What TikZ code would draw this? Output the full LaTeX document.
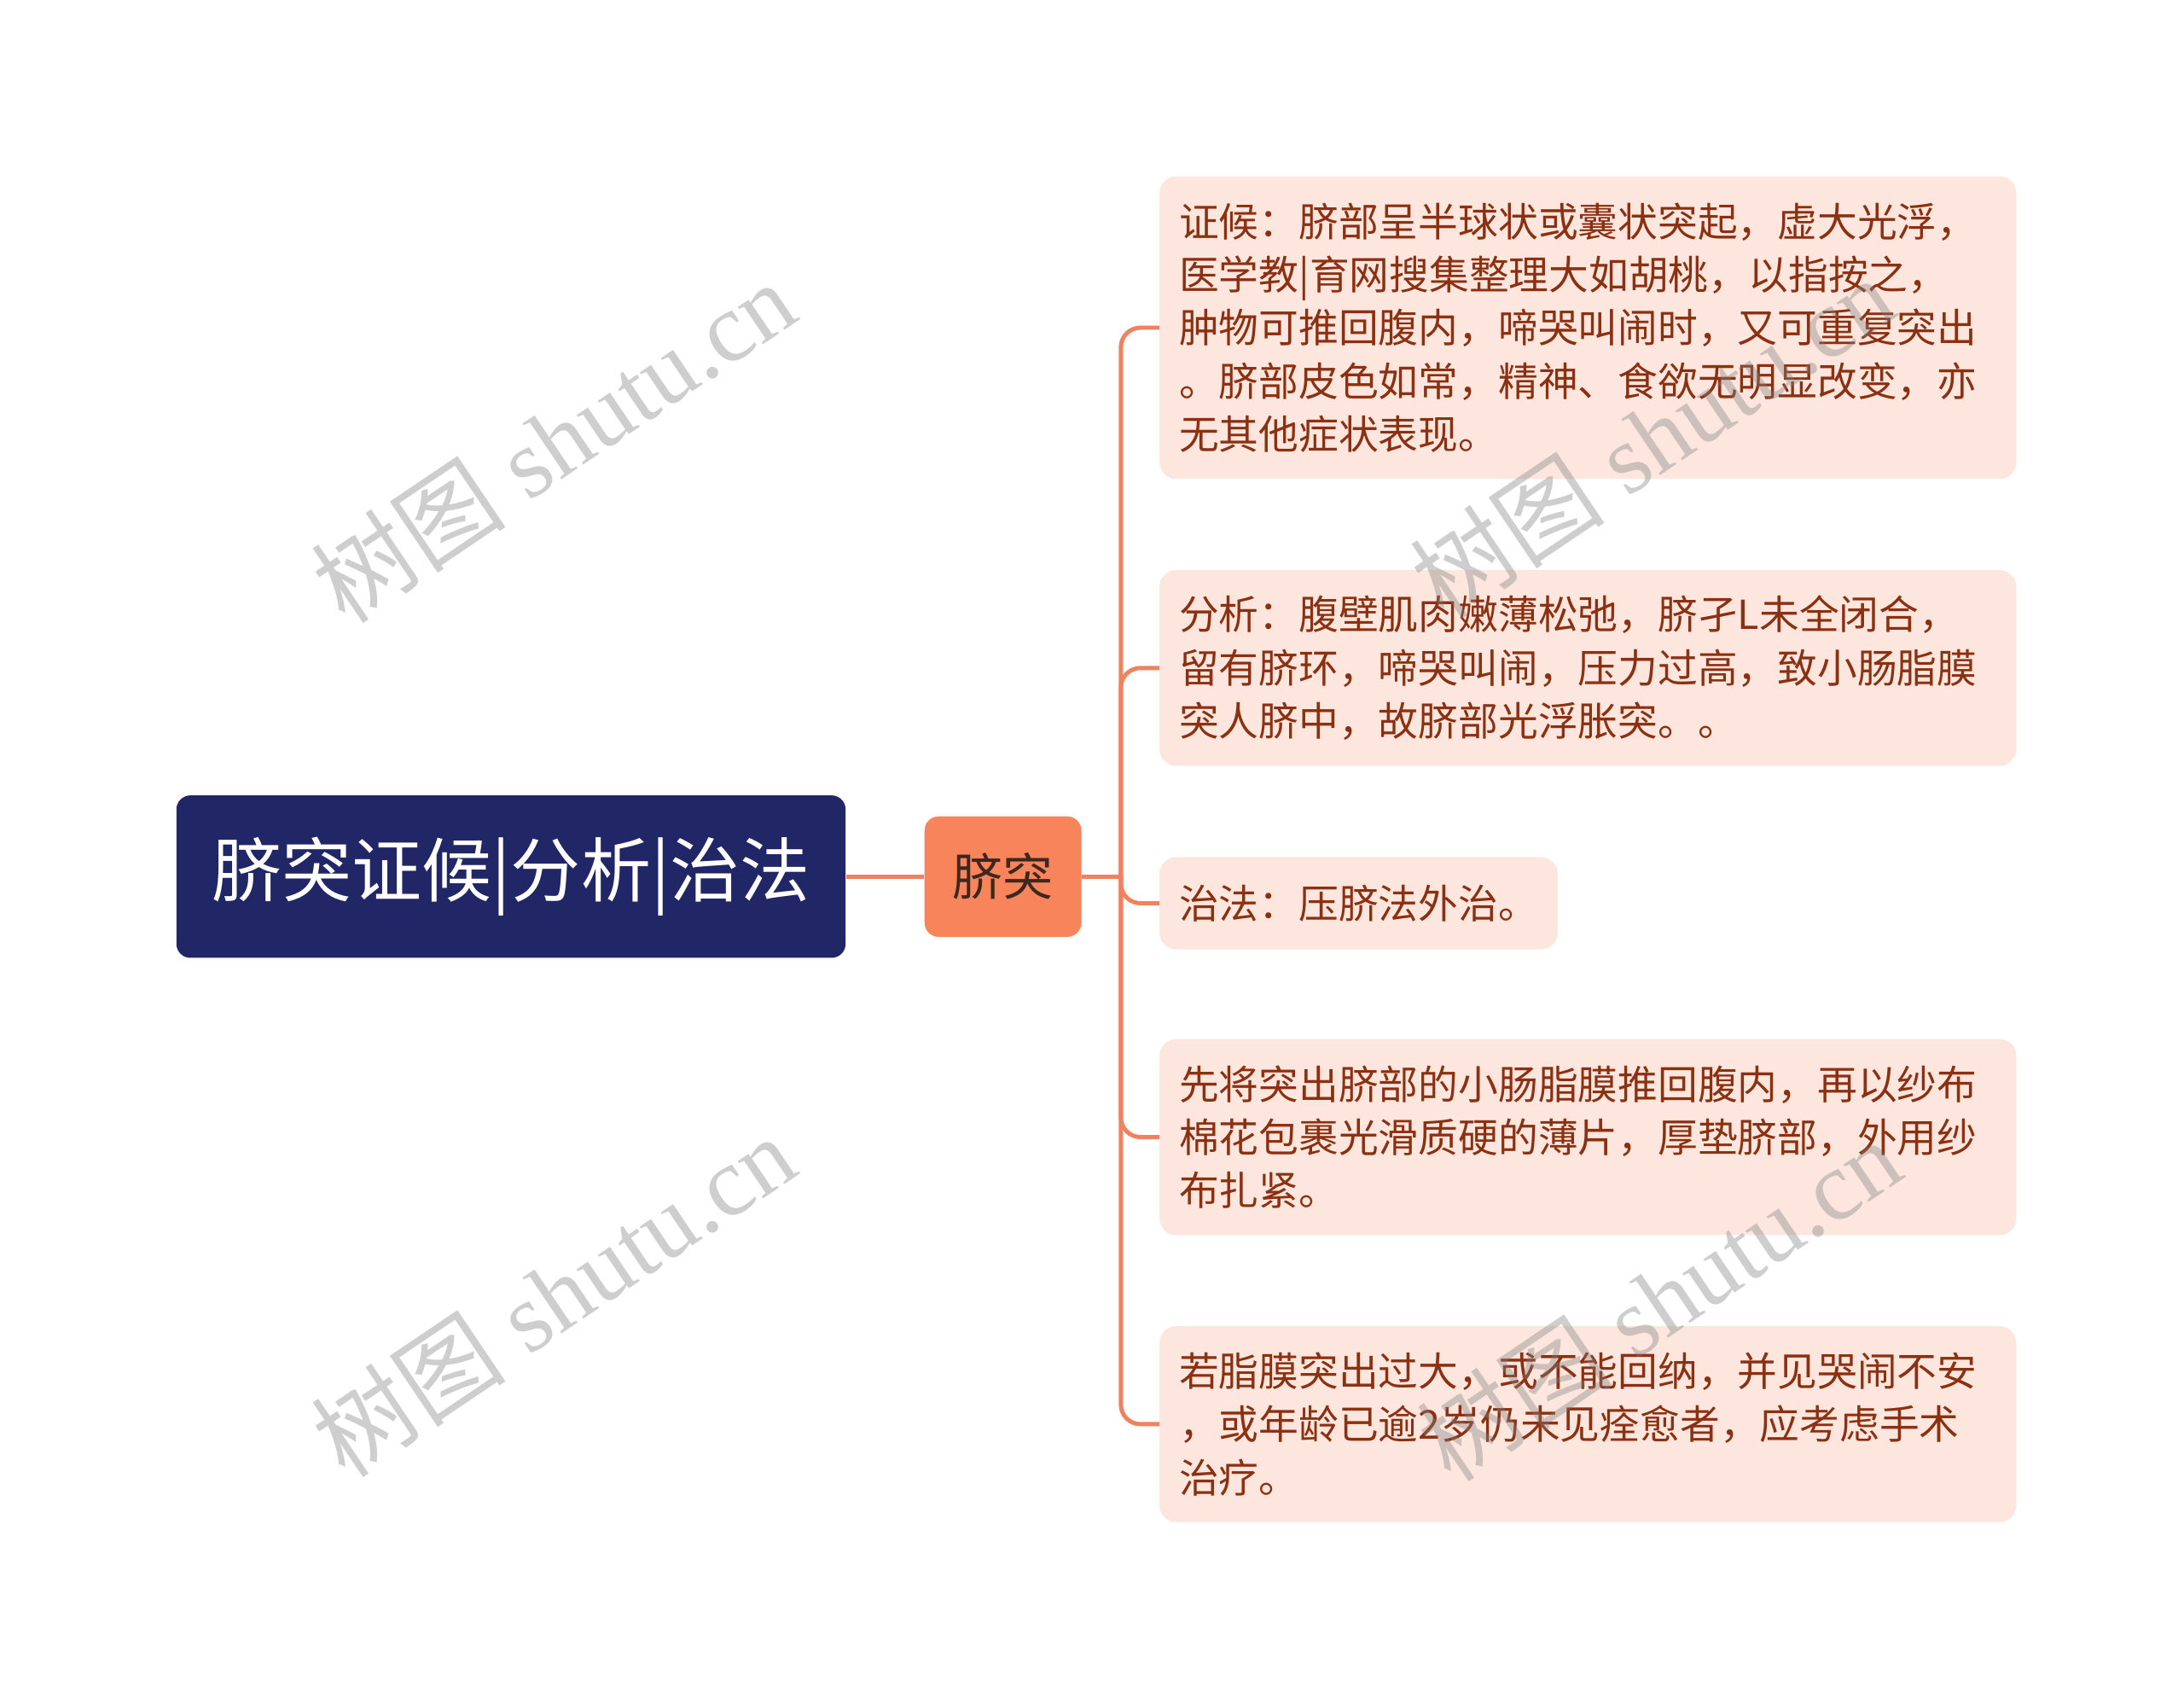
\documentclass[tikz,border=0pt]{standalone}
\usepackage{fontspec}
\usepackage{tikz}
\usetikzlibrary{positioning}
\newfontfamily\cjk{Noto Sans CJK SC}
\newfontfamily\wmserif{Liberation Serif}
\definecolor{rootblue}{RGB}{33,38,102}
\definecolor{subcoral}{RGB}{247,132,90}
\definecolor{subtext}{RGB}{60,40,30}
\definecolor{leafpeach}{RGB}{253,230,221}
\definecolor{leaftext}{RGB}{140,48,18}
\definecolor{linkcoral}{RGB}{240,130,95}

\tikzset{
  rootbox/.style={fill=rootblue, text=white, rounded corners=10pt, inner sep=0pt,
    font=\cjk\fontsize{50}{60}\selectfont, minimum width=478pt, minimum height=116pt},
  subbox/.style={fill=subcoral, text=subtext, rounded corners=10pt, inner sep=0pt,
    font=\cjk\fontsize{36}{44}\selectfont, minimum width=112pt, minimum height=86pt},
  leafbox/.style={fill=leafpeach, text=leaftext, rounded corners=12pt, align=left,
    font=\cjk\fontsize{28.5}{38}\selectfont, inner xsep=14pt, inner ysep=10pt, anchor=west},
  leafwide/.style={leafbox, text width=584pt},
  link/.style={draw=linkcoral, line width=3pt},
  watermark/.style={font=\wmserif\fontsize{70}{70}\selectfont, text=gray, opacity=0.38, rotate=34}
}

\begin{document}
\begin{tikzpicture}[x=1pt, y=-1pt]
  \useasboundingbox[fill=white] (0,0) rectangle (1560,1208.4);

  % main topic and its one subtopic
  \node[rootbox] (root) at (365,626) {脐突证候|分析|治法};
  \node[subbox, right=56pt of root] (sub) {脐突};
  \coordinate (fork) at ([xshift=28pt]sub.east);

  % details
  \node[leafwide, minimum height=216pt] (sign) at (828,234)
    {证候：脐部呈半球状或囊状突起，虚大光浮，\\医学教|育网搜集整理大如胡桃，以指按之，\\肿物可推回腹内，啼哭叫闹时，又可重复突出\\。脐部皮色如常，精神、食欲无明显改变，亦\\无其他症状表现。};
  \node[leafwide, minimum height=140pt] (cause) at (828,477)
    {分析：腹壁肌肉嫩薄松弛，脐孑L未全闭合，\\留有脐环，啼哭叫闹，压力过高，致小肠脂膜\\突人脐中，故脐部光浮胀突。。};
  \node[leafbox, minimum height=66pt] (cure) at (828,645) {治法：压脐法外治。};
  \node[leafwide, minimum height=140pt] (press) at (828,812)
    {先将突出脐部的小肠脂膜推回腹内，再以纱布\\棉花包裹光滑质硬的薄片，厚垫脐部，外用纱\\布扎紧。};
  \node[leafwide, minimum height=140pt] (surgery) at (828,1017)
    {若脂膜突出过大，或不能回纳，并见哭闹不安\\，或年龄已逾2岁仍未见痊愈者，应考虑手术\\治疗。};

  % connectors
  \draw[link] (root.east) -- (sub.west);
  \draw[link] (sub.east) -- (fork);
  \foreach \leaf in {sign,cause,cure,press,surgery}
    \draw[link, rounded corners=14pt] (fork) |- (\leaf.west);

  % watermarks
  \node[watermark] (wm1) at (395,315) {{\cjk 树图} shutu.cn};
  \node[watermark] (wm2) at (395,925) {{\cjk 树图} shutu.cn};
  \node[watermark] (wm3) at (1180,312) {{\cjk 树图} shutu.cn};
  \node[watermark] (wm4) at (1185,928) {{\cjk 树图} shutu.cn};
\end{tikzpicture}
\end{document}
